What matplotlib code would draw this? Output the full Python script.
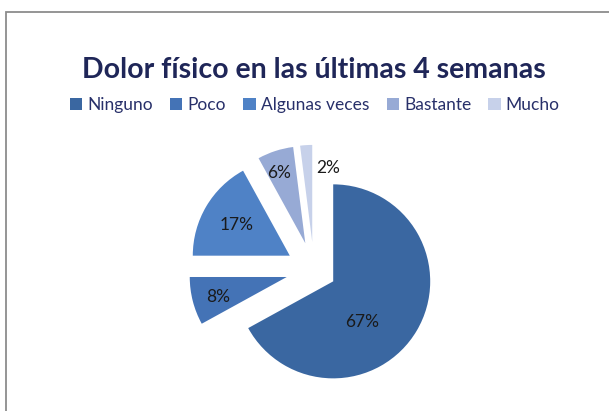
import matplotlib
matplotlib.use("Agg")
import matplotlib.pyplot as plt
from matplotlib.patches import Patch, Rectangle
import numpy as np

categories = ["Ninguno", "Poco", "Algunas veces", "Bastante", "Mucho"]
values = [67, 8, 17, 6, 2]
pct_labels = ["67%", "8%", "17%", "6%", "2%"]
title = "Dolor físico en las últimas 4 semanas"

colors = ["#3A67A1", "#4473B6", "#4F82C6", "#97AAD5", "#C7D1EA"]
explode = [0.23, 0.29, 0.29, 0.29, 0.29]
# label placement (radius, angle in degrees) in pie units from centre
label_polar = [(0.73, -47.3), (1.03, 195.7), (0.92, 149.7), (1.06, 109.8), (1.06, 82.2)]

plt.rcParams['font.family'] = ['Lato', 'DejaVu Sans']

fig = plt.figure(figsize=(6.09, 4.11), dpi=100)
fig.patch.set_facecolor("white")
ax = fig.add_axes([0, 0, 1, 1])

wedges, _ = ax.pie(values, colors=colors, explode=explode, startangle=90,
                   counterclock=False, radius=1.0, center=(0, 0),
                   wedgeprops=dict(linewidth=0))

cx_px, cy_px, r_px = 314, 270, 97
W, H = 609, 411
ax.set_aspect("auto")
ax.set_xlim(-cx_px / r_px, (W - cx_px) / r_px)
ax.set_ylim(-(H - cy_px) / r_px, cy_px / r_px)
ax.set_axis_off()

for txt, (r, a) in zip(pct_labels, label_polar):
    ax.text(r * np.cos(np.radians(a)), r * np.sin(np.radians(a)), txt,
            ha="center", va="center", fontsize=12.5, color="#1a1a1a")

fig.text(0.516, 0.830, title, ha="center", va="center", fontsize=20.5,
         fontweight="bold", color="#1F2658")

handles = [Patch(facecolor=c, edgecolor="none") for c in colors]
leg = fig.legend(handles, categories, loc="center", bbox_to_anchor=(0.517, 0.745),
                 ncol=5, frameon=False, fontsize=12.5, handlelength=0.7,
                 handleheight=0.7, handletextpad=0.3, columnspacing=1.0)
for t in leg.get_texts():
    t.set_color("#28306A")

fig.patches.append(Rectangle((6 / W, -0.1), 1.5, 1 - 11.5 / H + 0.1,
                             transform=fig.transFigure, fill=False,
                             edgecolor="#8c8c8c", linewidth=1.3))

fig.savefig("out.png", dpi=100, facecolor="white")
